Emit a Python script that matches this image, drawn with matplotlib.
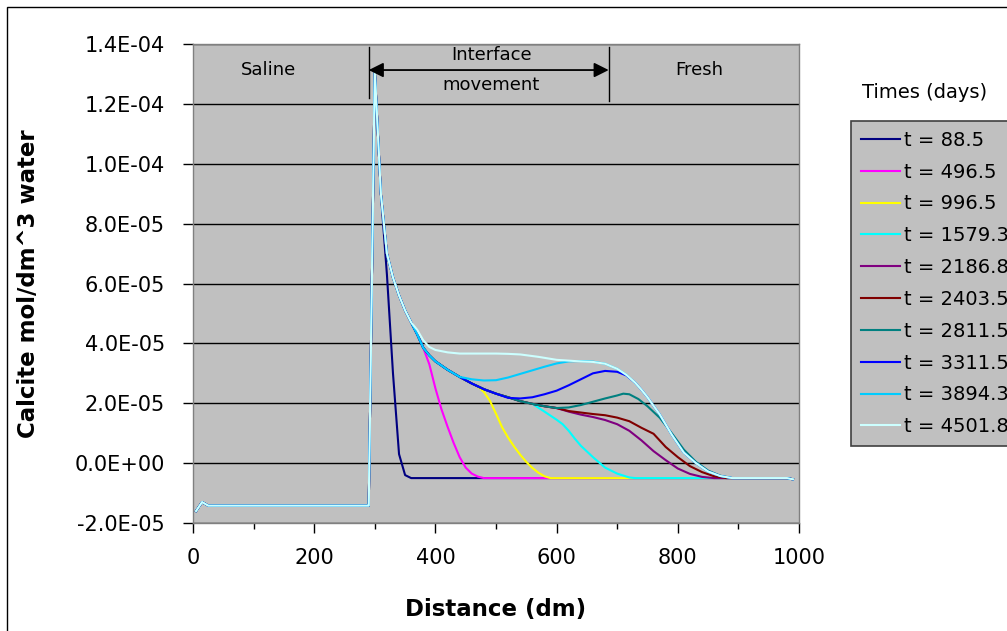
## Calcite concentration profiles along the column for several times

import numpy as np
import matplotlib.pyplot as plt
from matplotlib.patches import Rectangle
from matplotlib.ticker import MultipleLocator, FuncFormatter

# Shared part of every profile: saline zone and the peak at the interface
saline_x = [5, 15, 25, 290, 300]
saline_y = [-1.6e-5, -1.3e-5, -1.42e-5, -1.42e-5, 1.31e-4]

# Common decay behind the peak (followed by all times except the first)
trunk_x = [310, 320, 330, 340, 350, 360, 370, 380, 390, 400, 420, 440, 460, 480, 500, 520, 540, 560, 580, 600]
trunk_y = [9.0e-5, 7.0e-5, 6.2e-5, 5.6e-5, 5.1e-5, 4.7e-5, 4.3e-5, 3.85e-5, 3.6e-5, 3.4e-5,
           3.12e-5, 2.88e-5, 2.66e-5, 2.47e-5, 2.32e-5, 2.2e-5, 2.07e-5, 1.98e-5, 1.9e-5, 1.84e-5]

# Fresh water end of the column
end_x = [980, 990]
end_y = [-5.0e-6, -5.4e-6]

times = ["88.5", "496.5", "996.5", "1579.3", "2186.8", "2403.5", "2811.5", "3311.5", "3894.3", "4501.8"]
colors = ["#000080", "#FF00FF", "#FFFF00", "#00FFFF", "#800080", "#800000", "#008080", "#0000FF", "#00CCFF", "#CCFFFF"]

# Tail of each profile after it leaves the common decay
tail_x = [
    [310, 320, 330, 340, 350, 360],
    [390, 400, 410, 420, 430, 440, 450, 460, 470, 480],
    [470, 480, 490, 500, 510, 520, 530, 540, 550, 560, 570, 580, 590],
    [580, 600, 610, 620, 630, 640, 660, 680, 700, 720, 730],
    [620, 640, 660, 680, 700, 720, 740, 760, 780, 800, 820, 840, 860],
    [620, 640, 660, 680, 700, 720, 740, 760, 780, 800, 820, 840, 860, 880],
    [620, 640, 660, 680, 700, 710, 720, 735, 750, 770, 790, 810, 830, 850, 870, 890],
    [520, 540, 560, 580, 600, 620, 640, 660, 680, 700, 715, 730, 740, 750, 770, 790, 810, 830, 850, 870, 890],
    [460, 480, 500, 520, 540, 560, 580, 600, 620, 640, 660, 680, 700, 715, 730, 740, 750, 770, 790, 810, 830, 850, 870, 890],
    [370, 380, 390, 400, 420, 440, 460, 480, 500, 520, 540, 570, 600, 630, 660, 680, 700, 715, 730, 740, 750, 770, 790, 810, 830, 850, 870, 890],
]
tail_y = [
    [9.0e-5, 6.3e-5, 3.0e-5, 3.0e-6, -4.0e-6, -5.0e-6],
    [3.3e-5, 2.5e-5, 1.8e-5, 1.22e-5, 6.8e-6, 2.0e-6, -1.5e-6, -3.5e-6, -4.5e-6, -5.0e-6],
    [2.56e-5, 2.38e-5, 2.08e-5, 1.65e-5, 1.2e-5, 8.5e-6, 5.5e-6, 2.8e-6, 4.0e-7, -1.6e-6, -3.2e-6, -4.4e-6, -5.0e-6],
    [1.72e-5, 1.45e-5, 1.3e-5, 1.08e-5, 8.2e-6, 5.8e-6, 2.0e-6, -1.5e-6, -3.5e-6, -4.8e-6, -5.0e-6],
    [1.72e-5, 1.62e-5, 1.54e-5, 1.44e-5, 1.3e-5, 1.08e-5, 7.6e-6, 4.0e-6, 1.0e-6, -1.8e-6, -3.6e-6, -4.6e-6, -5.0e-6],
    [1.74e-5, 1.69e-5, 1.64e-5, 1.6e-5, 1.52e-5, 1.4e-5, 1.18e-5, 9.8e-6, 5.4e-6, 2.0e-6, -1.0e-6, -3.0e-6, -4.4e-6, -5.0e-6],
    [1.86e-5, 1.94e-5, 2.05e-5, 2.16e-5, 2.26e-5, 2.32e-5, 2.3e-5, 2.14e-5, 1.9e-5, 1.52e-5, 1.0e-5, 4.5e-6, 4.0e-7, -2.5e-6, -4.2e-6, -5.0e-6],
    [2.18e-5, 2.16e-5, 2.2e-5, 2.3e-5, 2.42e-5, 2.6e-5, 2.8e-5, 3.0e-5, 3.08e-5, 3.05e-5, 2.93e-5, 2.68e-5,
     2.45e-5, 2.2e-5, 1.63e-5, 9.5e-6, 3.5e-6, 0.0, -2.8e-6, -4.3e-6, -5.0e-6],
    [2.8e-5, 2.76e-5, 2.77e-5, 2.86e-5, 2.98e-5, 3.1e-5, 3.22e-5, 3.33e-5, 3.4e-5, 3.41e-5, 3.39e-5, 3.32e-5,
     3.15e-5, 2.95e-5, 2.68e-5, 2.45e-5, 2.2e-5, 1.63e-5, 9.5e-6, 3.5e-6, 0.0, -2.8e-6, -4.3e-6, -5.0e-6],
    [4.45e-5, 4.1e-5, 3.88e-5, 3.78e-5, 3.7e-5, 3.66e-5, 3.66e-5, 3.66e-5, 3.66e-5, 3.65e-5, 3.63e-5, 3.55e-5,
     3.45e-5, 3.41e-5, 3.38e-5, 3.32e-5, 3.15e-5, 2.95e-5, 2.68e-5, 2.45e-5, 2.2e-5, 1.63e-5, 9.5e-6, 3.5e-6,
     0.0, -2.8e-6, -4.3e-6, -5.0e-6],
]


def profile(tx, ty, use_trunk=True):
    """
        Joins the saline part, the shared decay (up to where the tail starts) and the tail
    """
    xs = list(saline_x)
    ys = list(saline_y)
    if use_trunk:
        for x, y in zip(trunk_x, trunk_y):
            if x < tx[0]:
                xs.append(x)
                ys.append(y)
    xs += list(tx) + end_x
    ys += list(ty) + end_y
    return np.array(xs), np.array(ys)


fig = plt.figure(figsize=(10.07, 6.31), dpi=100)
ax = fig.add_axes([193/1007, 108/631, 606/1007, 479/631])
ax.set_facecolor('#C0C0C0')

for i, t in enumerate(times):
    xs, ys = profile(tail_x[i], tail_y[i], use_trunk=(i > 0))
    ax.plot(xs, ys, color=colors[i], lw=1.5, label='t = ' + t)

ax.set_xlim(0, 1000)
ax.set_ylim(-2e-5, 1.4e-4)
ax.xaxis.set_major_locator(MultipleLocator(200))
ax.xaxis.set_minor_locator(MultipleLocator(100))
ax.yaxis.set_major_locator(MultipleLocator(2e-5))


def sci(v, pos):
    if abs(v) < 1e-12:
        v = 0.0
    return f"{v:.1E}"


ax.yaxis.set_major_formatter(FuncFormatter(sci))
ax.tick_params(which='major', direction='out', length=7, width=1, color='black', labelsize=15)
ax.tick_params(which='minor', direction='out', length=4, width=1, color='black')
ax.tick_params(axis='x', pad=11)
ax.tick_params(axis='y', pad=13)

ax.set_axisbelow(True)
ax.grid(axis='y', color='black', lw=1)
for s in ax.spines.values():
    s.set_color('#808080')
    s.set_linewidth(1)

ax.set_xlabel('Distance (dm)', fontsize=16.5, fontweight='bold')
ax.xaxis.set_label_coords(0.5, -(598 - 523) / 479)
ax.set_ylabel('Calcite mol/dm^3 water', fontsize=16.5, fontweight='bold')
ax.yaxis.set_label_coords((40 - 193) / 606, 0.5)

# Zone labels and the interface arrow
ax.text(125, 1.313e-4, 'Saline', ha='center', va='center', fontsize=13)
ax.text(835, 1.313e-4, 'Fresh', ha='center', va='center', fontsize=13)
ax.text(492, 1.363e-4, 'Interface', ha='center', va='center', fontsize=13)
ax.text(492, 1.263e-4, 'movement', ha='center', va='center', fontsize=13)
ax.plot([290, 290], [1.22e-4, 1.39e-4], color='black', lw=1)
ax.plot([686, 686], [1.21e-4, 1.39e-4], color='black', lw=1)
ax.annotate('', xy=(290, 1.313e-4), xytext=(686, 1.313e-4),
            arrowprops=dict(arrowstyle='<|-|>', color='black', lw=1.3, mutation_scale=22,
                            shrinkA=0, shrinkB=0))

leg = ax.legend(loc='upper left', bbox_to_anchor=(851/1007, 1 - 121/631), bbox_transform=fig.transFigure,
                borderaxespad=0, fontsize=14, handlelength=2.0, handletextpad=0.2, labelspacing=0.66,
                borderpad=0.5, fancybox=False, facecolor='#C0C0C0', edgecolor='#404040', framealpha=1)
leg.get_frame().set_linewidth(1.2)
fig.text(925/1007, 1 - 92/631, 'Times (days)', ha='center', va='center', fontsize=14)

# outer chart border
fig.patches.append(Rectangle((7/1007, -0.02), 1.1, 624/631 + 0.02, transform=fig.transFigure,
                             fill=False, edgecolor='black', lw=1))

fig.savefig('out.png', dpi=100)
